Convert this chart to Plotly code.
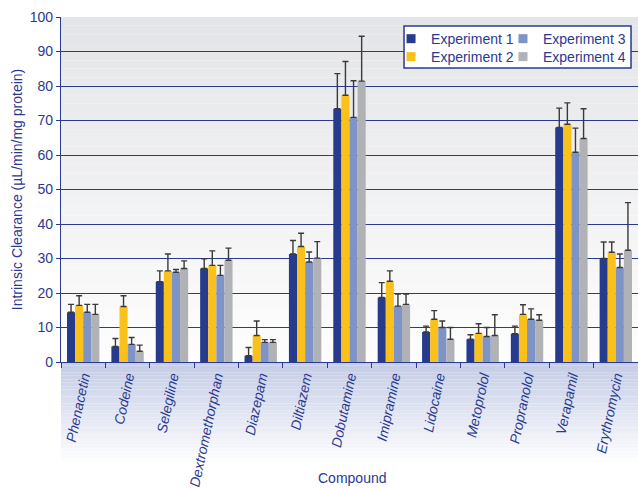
import plotly.graph_objects as go

compounds = ["Phenacetin", "Codeine", "Selegiline", "Dextromethorphan", "Diazepam",
             "Diltiazem", "Dobutamine", "Imipramine", "Lidocaine", "Metoprolol",
             "Propranolol", "Verapamil", "Erythromycin"]

exp1 = [14.4, 4.5, 23.3, 27.1, 1.8, 31.3, 73.4, 18.7, 8.7, 6.6, 8.2, 68.0, 30.0]
exp2 = [16.4, 16.1, 26.4, 28.0, 7.7, 33.5, 77.3, 23.4, 12.4, 8.3, 13.8, 68.9, 31.8]
exp3 = [14.4, 5.1, 26.0, 25.1, 5.7, 29.0, 70.9, 16.2, 10.0, 7.4, 12.4, 60.8, 27.4]
exp4 = [13.8, 3.1, 27.1, 29.5, 5.7, 30.1, 81.4, 16.7, 6.6, 7.7, 12.1, 64.8, 32.4]

err1 = [2.3, 2.3, 3.1, 2.8, 2.4, 3.9, 10.2, 4.3, 1.7, 1.3, 2.2, 5.6, 4.8]
err2 = [2.8, 3.1, 4.9, 4.2, 4.2, 3.8, 9.8, 3.0, 2.5, 2.8, 2.8, 6.2, 3.0]
err3 = [2.3, 2.0, 0.8, 2.9, 0.8, 2.9, 10.6, 3.5, 1.9, 2.6, 3.0, 7.0, 3.9]
err4 = [2.9, 1.8, 2.2, 3.5, 0.8, 4.8, 13.0, 3.0, 3.4, 6.0, 1.6, 8.6, 13.8]

series_names = ["Experiment 1", "Experiment 2", "Experiment 3", "Experiment 4"]
series_vals = [exp1, exp2, exp3, exp4]
series_errs = [err1, err2, err3, err4]
colors = ["#263B8C", "#FBC11B", "#7E93C6", "#B1B2B5"]
legend_ids = ["legend", "legend2", "legend3", "legend4"]

TXT = "#2B3990"
FONT = "Liberation Sans, Arial, sans-serif"

fig = go.Figure()
for name, vals, errs, col in zip(series_names, series_vals, series_errs, colors):
    fig.add_trace(go.Bar(
        x=compounds, y=vals, name=name, marker=dict(color=col, line=dict(width=0)),
        showlegend=False,
        error_y=dict(type="data", symmetric=False, array=errs, arrayminus=[0] * len(errs),
                     color="#3A3A3A", thickness=1.4, width=3),
    ))
# legend entries (square swatches)
for name, col, lg in zip(series_names, colors, legend_ids):
    fig.add_trace(go.Scatter(
        x=[None], y=[None], mode="markers", name=name, legend=lg,
        marker=dict(symbol="square", size=9, color=col),
    ))

shapes = []
# plot area gradient (gray top -> white bottom)
N = 40
top = (228, 229, 232)
bot = (253, 253, 253)
for i in range(N):
    t = i / (N - 1)
    c = tuple(round(top[k] + (bot[k] - top[k]) * t) for k in range(3))
    shapes.append(dict(type="rect", xref="paper", yref="paper", x0=0, x1=1,
                       y0=1 - (i + 1) / N, y1=1 - i / N, layer="below",
                       fillcolor="rgb(%d,%d,%d)" % c, line=dict(width=0)))
# x-axis label band gradient (light blue -> white)
M = 30
btop = (196, 204, 230)
bbot = (255, 255, 255)
band_h = 0.30
for i in range(M):
    t = i / (M - 1)
    c = tuple(round(btop[k] + (bbot[k] - btop[k]) * t) for k in range(3))
    shapes.append(dict(type="rect", xref="paper", yref="paper", x0=0, x1=1,
                       y0=-(i + 1) * band_h / M, y1=-i * band_h / M, layer="below",
                       fillcolor="rgb(%d,%d,%d)" % c, line=dict(width=0)))
# legend box
shapes.append(dict(type="rect", xref="paper", yref="paper", x0=0.5945, x1=0.9879,
                   y0=0.852, y1=0.974, layer="above", fillcolor="white",
                   line=dict(color=TXT, width=1.5)))

leg_common = dict(xanchor="left", yanchor="middle", orientation="v",
                  bgcolor="rgba(0,0,0,0)", borderwidth=0, font=dict(size=14, color=TXT))
leg_pos = {"legend": (0.572, 0.936), "legend2": (0.572, 0.884),
           "legend3": (0.766, 0.936), "legend4": (0.766, 0.884)}

fig.update_layout(
    width=638, height=489,
    margin=dict(l=61, r=0, t=17, b=127),
    paper_bgcolor="white", plot_bgcolor="rgba(0,0,0,0)",
    font=dict(family=FONT, color=TXT, size=14),
    barmode="group", bargap=0.27, bargroupgap=0,
    shapes=shapes,
    annotations=[dict(text="Compound", xref="paper", yref="paper", x=0.505, y=-0.336,
                      xanchor="center", yanchor="middle", showarrow=False,
                      font=dict(size=14, color=TXT))],
)
for lg, (lx, ly) in leg_pos.items():
    fig.update_layout({lg: dict(x=lx, y=ly, **leg_common)})

fig.update_yaxes(
    range=[0, 100], dtick=10, showgrid=True, gridcolor=TXT, gridwidth=1,
    showline=True, linecolor=TXT, linewidth=1.2, ticks="outside", ticklen=4,
    tickcolor=TXT, tickfont=dict(size=14, color=TXT), zeroline=False,
    title=dict(text="Intrinsic Clearance (µL/min/mg protein)", font=dict(size=14, color=TXT),
               standoff=3),
    automargin=False,
)
fig.update_xaxes(
    showline=True, linecolor=TXT, linewidth=1.2, ticks="outside", ticklen=5,
    tickcolor=TXT, tickson="boundaries", tickangle=-78,
    tickfont=dict(size=14, color=TXT, style="italic"), showgrid=False,
    automargin=False,
)

fig.write_html("out.html", config={"displayModeBar": False},
               post_script="document.body.style.margin='0';document.body.style.overflow='hidden';")
